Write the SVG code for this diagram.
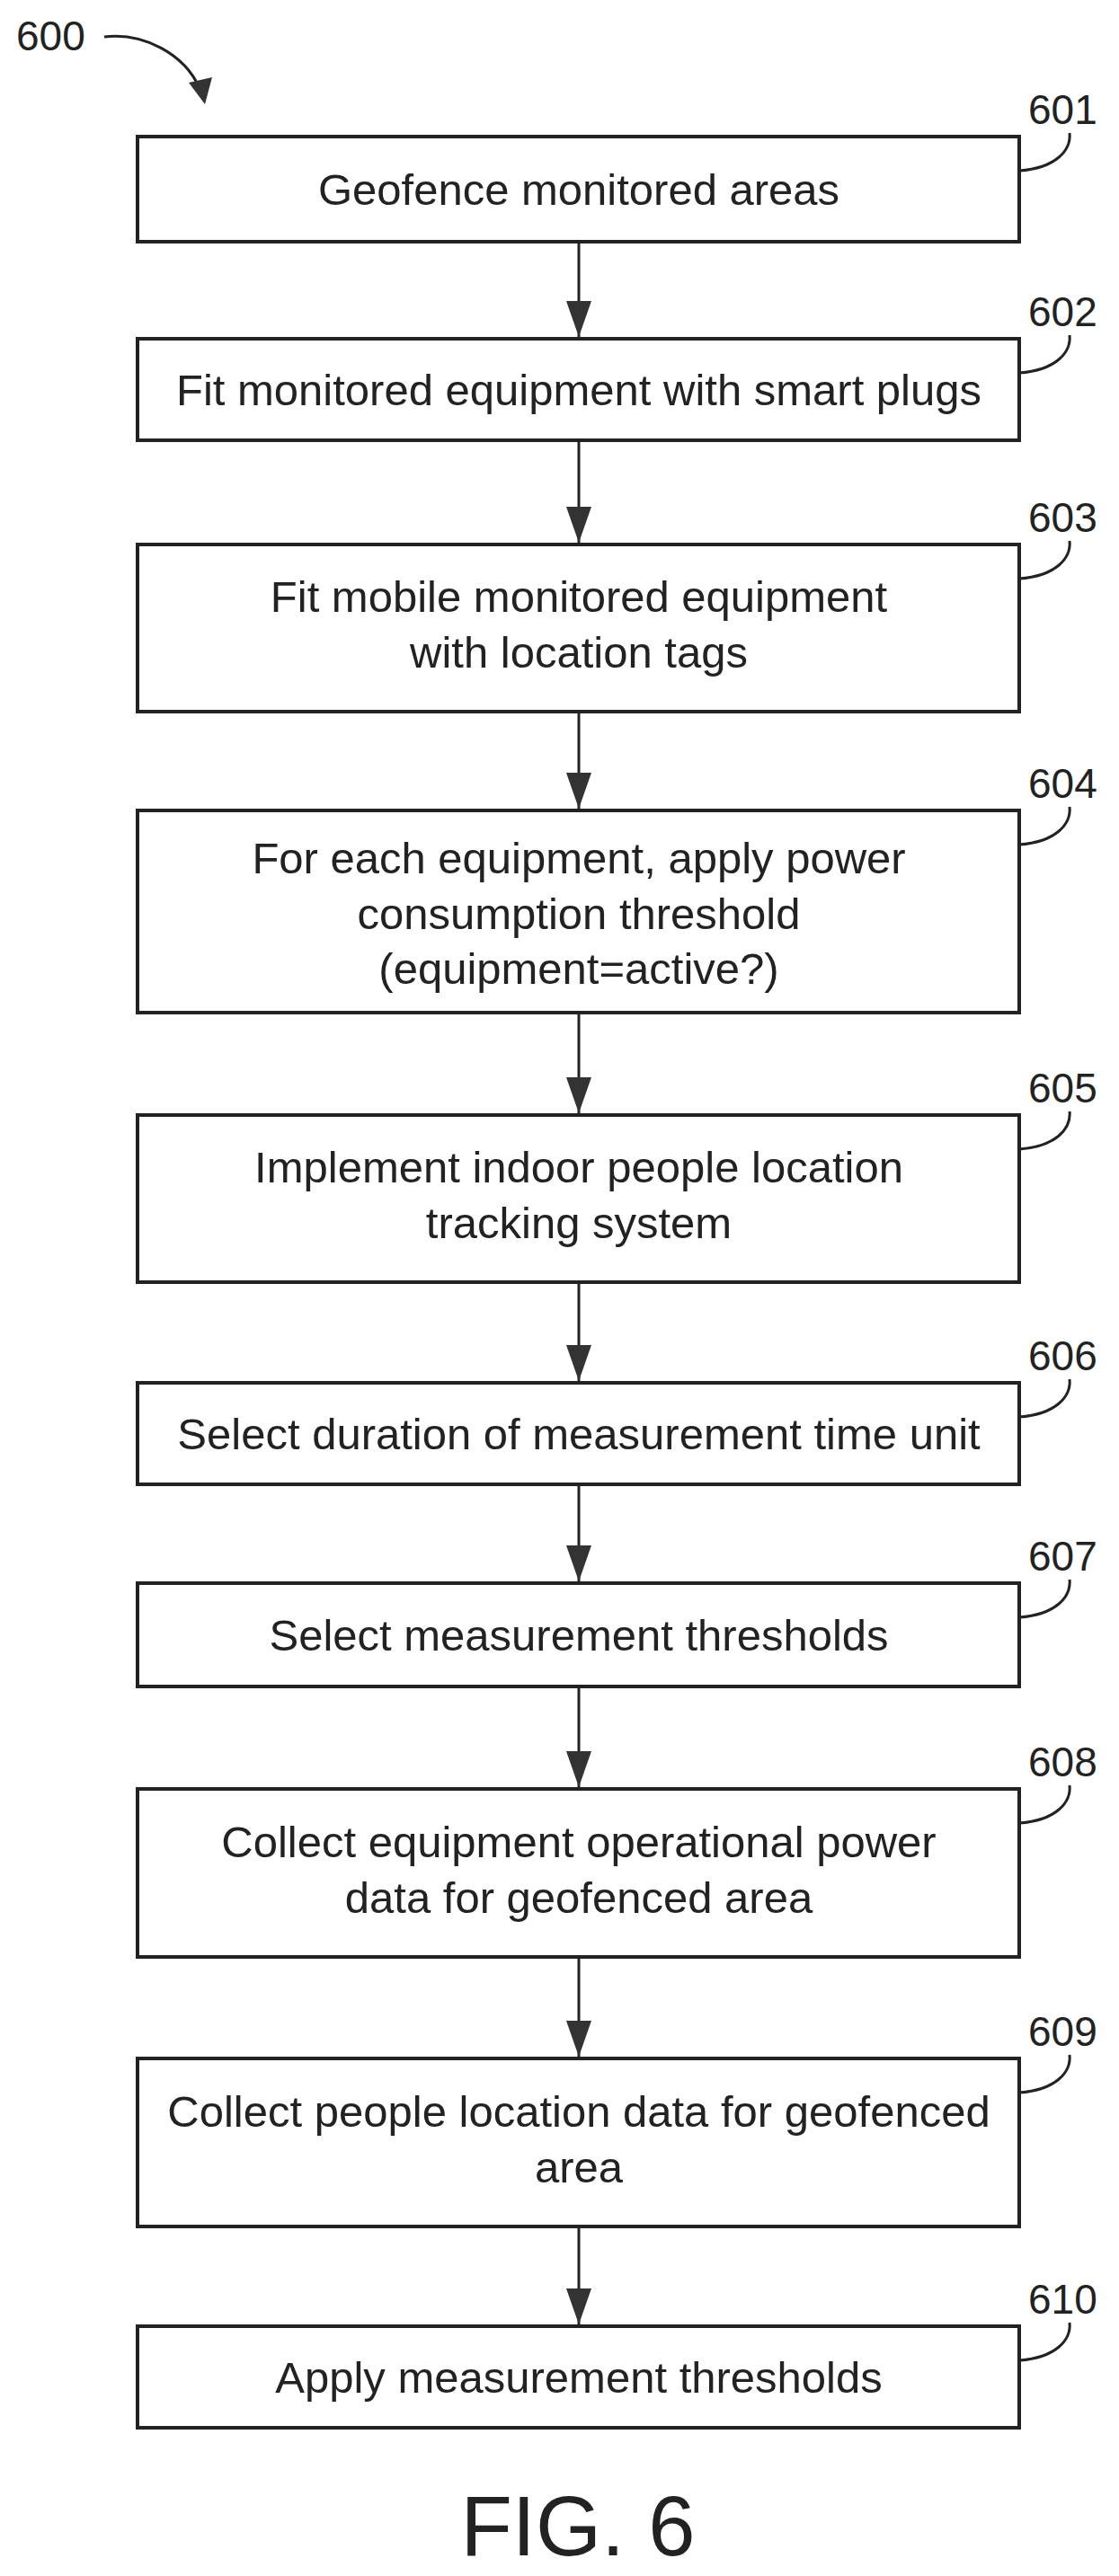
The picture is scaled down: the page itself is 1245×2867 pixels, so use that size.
<svg xmlns="http://www.w3.org/2000/svg" width="1245" height="2867" viewBox="0 0 1245 2867">
<style>
.box{fill:#fff;stroke:#222;stroke-width:4}
.t{font-family:"Liberation Sans",Arial,sans-serif;font-size:49px;fill:#222;text-anchor:middle}
.n{font-family:"Liberation Sans",Arial,sans-serif;font-size:46px;fill:#222}
.lead{fill:none;stroke:#222;stroke-width:3}
.c{stroke:#222;stroke-width:3;fill:none}
</style>
<defs>
<marker id="ah" markerWidth="40" markerHeight="28" refX="40" refY="14" orient="auto" markerUnits="userSpaceOnUse" viewBox="0 0 40 28"><path d="M0,0 L40,14 L0,28 Z" fill="#333"/></marker>
</defs>
<rect width="1245" height="2867" fill="#fff"/>
<g id="label600">
<text class="n" x="18" y="56">600</text>
<path class="lead" d="M116,41 C160,36 205,60 222,98"/>
<path d="M210,92 L236,86 L228,116 Z" fill="#333"/>
</g>
<g id="connectors">
<line class="c" x1="644" y1="269" x2="644" y2="375" marker-end="url(#ah)"/>
<line class="c" x1="644" y1="490" x2="644" y2="604" marker-end="url(#ah)"/>
<line class="c" x1="644" y1="792" x2="644" y2="900" marker-end="url(#ah)"/>
<line class="c" x1="644" y1="1127" x2="644" y2="1239" marker-end="url(#ah)"/>
<line class="c" x1="644" y1="1427" x2="644" y2="1537" marker-end="url(#ah)"/>
<line class="c" x1="644" y1="1652" x2="644" y2="1760" marker-end="url(#ah)"/>
<line class="c" x1="644" y1="1877" x2="644" y2="1989" marker-end="url(#ah)"/>
<line class="c" x1="644" y1="2178" x2="644" y2="2289" marker-end="url(#ah)"/>
<line class="c" x1="644" y1="2478" x2="644" y2="2587" marker-end="url(#ah)"/>
</g>
<g id="n601"><rect class="box" x="153" y="152" width="981" height="117"/><text class="t" x="644" y="228">Geofence monitored areas</text>
<text class="n" x="1144" y="138">601</text><path class="lead" d="M1134,190 C1175,187 1192,167 1190,148"/></g>
<g id="n602"><rect class="box" x="153" y="377" width="981" height="113"/><text class="t" x="644" y="451">Fit monitored equipment with smart plugs</text>
<text class="n" x="1144" y="363">602</text><path class="lead" d="M1134,415 C1175,412 1192,392 1190,373"/></g>
<g id="n603"><rect class="box" x="153" y="606" width="981" height="186"/><text class="t" x="644" y="681">Fit mobile monitored equipment</text><text class="t" x="644" y="743">with location tags</text>
<text class="n" x="1144" y="592">603</text><path class="lead" d="M1134,644 C1175,641 1192,621 1190,602"/></g>
<g id="n604"><rect class="box" x="153" y="902" width="981" height="225"/><text class="t" x="644" y="972">For each equipment, apply power</text><text class="t" x="644" y="1034">consumption threshold</text><text class="t" x="644" y="1095">(equipment=active?)</text>
<text class="n" x="1144" y="888">604</text><path class="lead" d="M1134,940 C1175,937 1192,917 1190,898"/></g>
<g id="n605"><rect class="box" x="153" y="1241" width="981" height="186"/><text class="t" x="644" y="1316">Implement indoor people location</text><text class="t" x="644" y="1378">tracking system</text>
<text class="n" x="1144" y="1227">605</text><path class="lead" d="M1134,1279 C1175,1276 1192,1256 1190,1237"/></g>
<g id="n606"><rect class="box" x="153" y="1539" width="981" height="113"/><text class="t" x="644" y="1613">Select duration of measurement time unit</text>
<text class="n" x="1144" y="1525">606</text><path class="lead" d="M1134,1577 C1175,1574 1192,1554 1190,1535"/></g>
<g id="n607"><rect class="box" x="153" y="1762" width="981" height="115"/><text class="t" x="644" y="1837">Select measurement thresholds</text>
<text class="n" x="1144" y="1748">607</text><path class="lead" d="M1134,1800 C1175,1797 1192,1777 1190,1758"/></g>
<g id="n608"><rect class="box" x="153" y="1991" width="981" height="187"/><text class="t" x="644" y="2067">Collect equipment operational power</text><text class="t" x="644" y="2129">data for geofenced area</text>
<text class="n" x="1144" y="1977">608</text><path class="lead" d="M1134,2029 C1175,2026 1192,2006 1190,1987"/></g>
<g id="n609"><rect class="box" x="153" y="2291" width="981" height="187"/><text class="t" x="644" y="2367">Collect people location data for geofenced</text><text class="t" x="644" y="2429">area</text>
<text class="n" x="1144" y="2277">609</text><path class="lead" d="M1134,2329 C1175,2326 1192,2306 1190,2287"/></g>
<g id="n610"><rect class="box" x="153" y="2589" width="981" height="113"/><text class="t" x="644" y="2663">Apply measurement thresholds</text>
<text class="n" x="1144" y="2575">610</text><path class="lead" d="M1134,2627 C1175,2624 1192,2604 1190,2585"/></g>
<text x="643" y="2844" style="font-family:'Liberation Sans',Arial,sans-serif;font-size:94px;fill:#222;text-anchor:middle">FIG. 6</text>
</svg>
